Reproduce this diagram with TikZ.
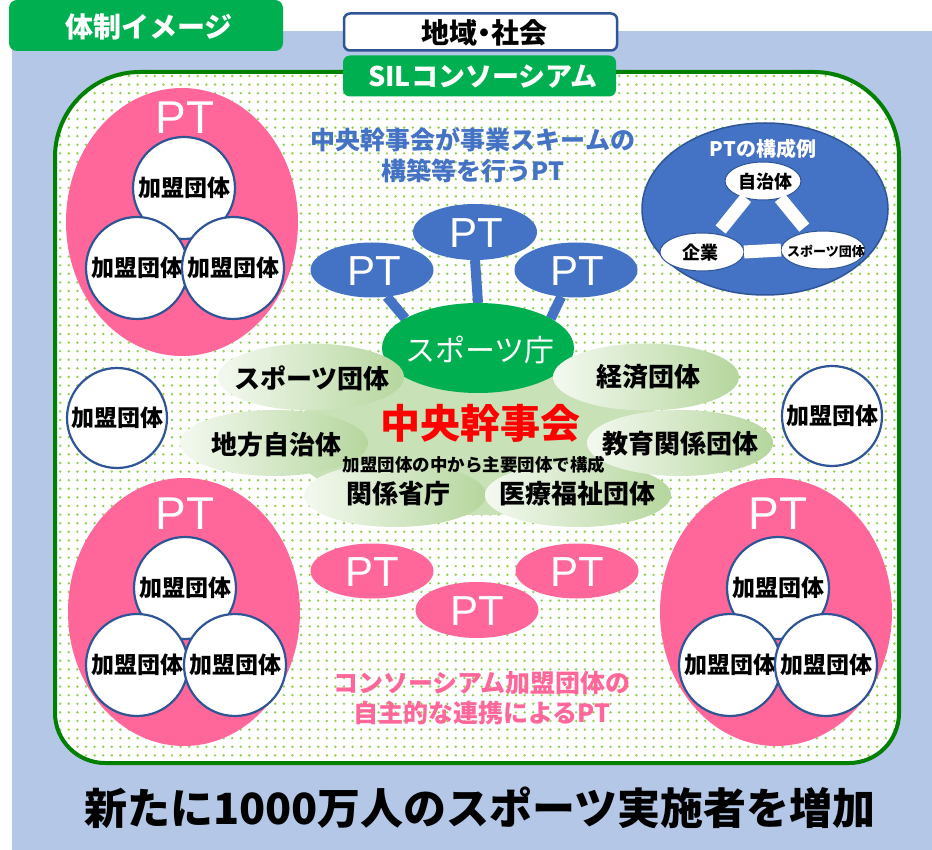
\documentclass[tikz,border=0pt]{standalone}
\usepackage{fontspec}
\setmainfont{Noto Sans CJK JP}
\newfontfamily\latfont{Liberation Sans}
\usetikzlibrary{patterns.meta,shapes.geometric}
\definecolor{bgblue}{HTML}{B4C7E7}
\definecolor{hgreen}{HTML}{00B050}
\definecolor{fgreen}{HTML}{008000}
\definecolor{dgreen}{HTML}{92D050}
\definecolor{pinkc}{HTML}{FF6699}
\definecolor{blueone}{HTML}{4472C4}
\definecolor{bord}{HTML}{2F5597}
\definecolor{lgA}{HTML}{F4F9F0}
\definecolor{lgB}{HTML}{B5D69D}
\definecolor{blobc}{HTML}{C8E1B6}
\pgfdeclarelayer{back}
\pgfdeclarelayer{conn}
\pgfsetlayers{back,conn,main}
\newcommand\myfs[1]{\fontsize{#1}{#1}\selectfont}
\begin{document}
\begin{tikzpicture}[x=1pt,y=-1pt,
  every node/.style={inner sep=0pt, outer sep=0pt},
  ell/.style={ellipse, inner sep=0pt},
  pinkbig/.style={ell, fill=pinkc, minimum width=232, minimum height=268},
  mem/.style={circle, draw=bord, line width=2.2pt, fill=white, minimum size=#1, font=\myfs{23}\bfseries},
  mem/.default=102,
  ptbig/.style={text=white, font=\latfont\myfs{46}},
  ptsmall/.style={text=white, font=\latfont\myfs{42}},
  ptblue/.style={ell, fill=blueone, minimum width=123, minimum height=55},
  ptpink/.style={ell, fill=pinkc, minimum width=123, minimum height=55},
  lell/.style={ell, left color=lgA, right color=lgB, minimum width=186, minimum height=66},
  ltxt/.style={font=\myfs{26}\bfseries},
  connb/.style={line width=10pt, draw=blueone},
  wbar/.style={line width=13pt, draw=white},
  sell/.style={ell, fill=white, draw=bord, line width=1pt, minimum width=#1, minimum height=38},
]
\useasboundingbox (0,0) rectangle (932,850);

\begin{pgfonlayer}{back}
  \fill[bgblue] (12,31) rectangle (932,850);
  \path[draw=fgreen, line width=4pt, preaction={fill=white},
        pattern={Dots[distance=8.6pt,radius=1.35pt]}, pattern color=dgreen]
     (55,400) [rounded corners=85pt] -- (55,72) -- (899,72) -- (899,400)
     [rounded corners=50pt] -- (899,763) -- (55,763) -- cycle;
\end{pgfonlayer}

% header boxes
\node[fill=hgreen, rounded corners=8pt, minimum width=274, minimum height=51] (hdr) at (146,25.5) {};
\node[text=white, font=\myfs{28}\bfseries] (hdrt) at (149,27) {体制イメージ};
\node[fill=white, draw=bord, line width=2.5pt, rounded corners=6pt, minimum width=273, minimum height=37] (chiiki) at (480.5,32) {};
\node[font=\myfs{28}\bfseries] (chiikit) at (484,33) {地域\kern-7pt・\kern-7pt社会};
\node[fill=hgreen, rounded corners=7pt, minimum width=273, minimum height=41] (sil) at (479.5,76) {};
\node[text=white, font=\myfs{27}\bfseries] (silt) at (483,77) {SILコンソーシアム};

% top-left PT group
\node[pinkbig] (pg1) at (182,222) {};
\node[ptbig] (pg1t) at (185,118) {PT};
\node[mem] (a1) at (184,188) {加盟団体};
\node[mem] (a2) at (137,268) {加盟団体};
\node[mem] (a3) at (233,268) {加盟団体};

% bottom-left PT group
\node[pinkbig] (pg2) at (184,612) {};
\node[ptbig] (pg2t) at (185,514) {PT};
\node[mem] (b1) at (185,588) {加盟団体};
\node[mem] (b2) at (137,665) {加盟団体};
\node[mem] (b3) at (235,665) {加盟団体};

% bottom-right PT group
\node[pinkbig] (pg3) at (776,612) {};
\node[ptbig] (pg3t) at (778,514) {PT};
\node[mem] (c1) at (778,588) {加盟団体};
\node[mem] (c2) at (730,665) {加盟団体};
\node[mem] (c3) at (826,665) {加盟団体};

% single members
\node[mem=100] (s1) at (117,418) {加盟団体};
\node[mem=100] (s2) at (832,416) {加盟団体};

% PT example (top right)
\node[ell, fill=blueone, draw=bord, line width=1.5pt, minimum width=246, minimum height=172] (ptex) at (765,209) {};
\node[text=white, font=\myfs{20}\bfseries] (ptext) at (763,149) {PTの構成例};
\node[sell=76] (jichi) at (763,181) {};
\node[font=\myfs{18}\bfseries] (jichit) at (765,182) {自治体};
\node[sell=84] (kigyo) at (702,252) {};
\node[font=\myfs{18}\bfseries] (kigyot) at (700,253) {企業};
\node[sell=84] (spt) at (823,250) {};
\node[font=\myfs{13}\bfseries] (sptt) at (826,251) {スポーツ団体};
\draw[wbar, shorten >=6pt] (jichi.-135) -- (kigyo.50);
\draw[wbar, shorten >=6pt] (jichi.-45) -- (spt.130);
\draw[wbar, line width=13pt] (kigyo.east) -- (spt.west);

% blue caption
\node[text=blueone, align=center, font=\fontsize{25}{31}\selectfont\bfseries] (capb) at (473,155) {中央幹事会が事業スキームの\\構築等を行うPT};

% central cluster
\node[ell, fill=blobc, minimum width=380, minimum height=150] (blob) at (480,440) {};
\node[ell, fill=hgreen, minimum width=192, minimum height=90] (spo) at (478,348) {};
\node[text=white, font=\myfs{30}] (spot) at (480,350) {スポーツ庁};
\node[lell, minimum width=186, minimum height=67] (e1) at (311,377) {};
\node[lell, minimum width=186, minimum height=67] (e2) at (646,377) {};
\node[lell, minimum width=182, minimum height=64] (e5) at (395,495) {};
\node[lell, minimum width=186, minimum height=64] (e6) at (578,495) {};
\node[lell, minimum width=188, minimum height=66] (e3) at (274,443) {};
\node[lell, minimum width=186, minimum height=66] (e4) at (680,443) {};
\node[ltxt] (e1t) at (312,378) {スポーツ団体};
\node[ltxt] (e2t) at (648,377) {経済団体};
\node[ltxt] (e3t) at (276,445) {地方自治体};
\node[ltxt] (e4t) at (680,444) {教育関係団体};
\node[ltxt] (e5t) at (398,494) {関係省庁};
\node[ltxt] (e6t) at (577,494) {医療福祉団体};
\node[text=red, font=\myfs{40}\bfseries] (chuo) at (480,423) {中央幹事会};
\node[font=\myfs{17.5}\bfseries] (kosei) at (474,465) {加盟団体の中から主要団体で構成};

% blue PTs
\node[ptblue] (ptL) at (372,270) {};
\node[ptblue, minimum width=124, minimum height=56] (ptM) at (475,232) {};
\node[ptblue] (ptR) at (576,270) {};
\node[ptsmall] (ptLt) at (374,271) {PT};
\node[ptsmall] (ptMt) at (476,233) {PT};
\node[ptsmall] (ptRt) at (577,271) {PT};
\begin{pgfonlayer}{conn}
  \draw[connb] (ptL.-61) -- (spo.158);
  \draw[connb] (ptM.south) -- (spo.north);
  \draw[connb] (ptR.-119) -- (spo.22);
\end{pgfonlayer}

% pink PTs
\node[ptpink] (pp1) at (372,571) {};
\node[ptpink] (pp2) at (577,571) {};
\node[ptpink, minimum height=56] (pp3) at (477,610) {};
\node[ptsmall] (pp1t) at (372,572) {PT};
\node[ptsmall] (pp2t) at (577,572) {PT};
\node[ptsmall] (pp3t) at (477,611) {PT};

% pink caption
\node[text=pinkc, align=center, font=\fontsize{25}{30}\selectfont\bfseries] (capp) at (482,698) {コンソーシアム加盟団体の\\自主的な連携によるPT};

% bottom message
\node[font=\myfs{43}\bfseries] (msg) at (480,808) {新たに1000万人のスポーツ実施者を増加};
\end{tikzpicture}
\end{document}
